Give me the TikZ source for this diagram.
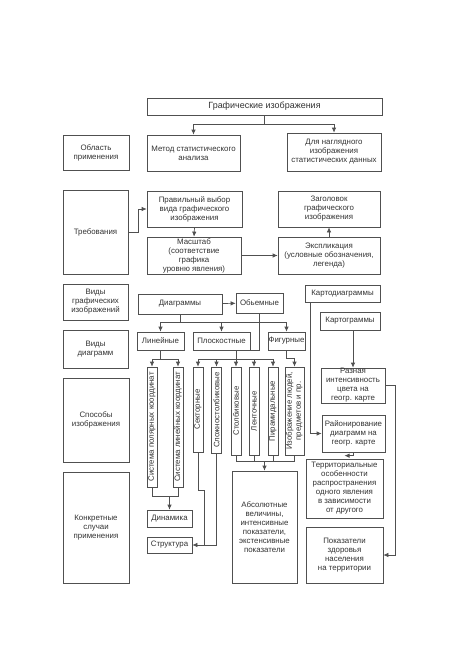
\documentclass[tikz,border=0pt]{standalone}
\usepackage{fontspec}
\setmainfont{Liberation Sans}
\usetikzlibrary{arrows.meta,calc}
\definecolor{lc}{HTML}{505050}
\definecolor{tc}{HTML}{333333}
\newcommand\bx[6]{\node[box, minimum width={(#4-#2)*1bp}, minimum height={(#5-#3)*1bp}] (#1) at ({(#2+#4)/2},{(#3+#5)/2}) {#6};}
\newcommand\vbx[6]{\node[box, minimum width={(#4-#2)*1bp}, minimum height={(#5-#3)*1bp}] (#1) at ({(#2+#4)/2},{(#3+#5)/2}) {\rotatebox{90}{#6}};}
\begin{document}
\begin{tikzpicture}[x=1bp,y=-1bp,
  box/.style={draw=lc, line width=0.7bp, inner sep=0pt, align=center, text=tc, font=\fontsize{7.9}{9}\selectfont},
  ln/.style={draw=lc, line width=0.7bp},
  arr/.style={draw=lc, line width=0.7bp, -{Latex[length=5bp,width=4.5bp]}}]
\useasboundingbox[fill=white] (0,0) rectangle (459,650);
% row 1
\bx{title}{147}{98}{382}{115}{\fontsize{9}{10}\selectfont Графические изображения}
\bx{obl}{63}{135}{129}{170}{Область\\применения}
\bx{metod}{147}{135}{240}{171}{Метод статистического\\анализа}
\bx{dlya}{287}{133}{381}{171}{Для наглядного\\изображения\\статистических данных}
% row 2
\bx{treb}{63}{190}{128}{274}{Требования}
\bx{prav}{147}{191}{242}{227}{Правильный выбор\\вида графического\\изображения}
\bx{mas}{147}{237}{241}{274}{Масштаб\\(соответствие\\графика\\уровню явления)}
\bx{zag}{278}{191}{380}{227}{Заголовок\\графического\\изображения}
\bx{exp}{278}{237}{380}{274}{Экспликация\\(условные обозначения,\\легенда)}
% row 3
\bx{vgi}{63}{284}{128}{320}{Виды\\графических\\изображений}
\bx{diag}{138}{294}{222}{314}{Диаграммы}
\bx{obem}{236}{293}{283}{313}{Обьемные}
\bx{kd}{305}{285}{380}{302}{Картодиаграммы}
\bx{kg}{320}{312}{380}{330}{Картограммы}
% row 4
\bx{vd}{63}{330}{128}{368}{Виды\\диаграмм}
\bx{lin}{137}{332}{184}{350}{Линейные}
\bx{plo}{193}{332}{250}{350}{Плоскостные}
\bx{fig}{268}{332}{305}{350}{Фигурные}
% row 5
\bx{sposob}{63}{378}{129}{462}{Способы\\изображения}
\vbx{pol}{147}{367}{157}{487}{Система полярных координат}
\vbx{linc}{173}{367}{183}{487}{Система линейных координат}
\vbx{sekt}{193}{367}{203}{452}{Секторные}
\vbx{slo}{211.5}{367}{221.5}{453}{Сложностолбиковые}
\vbx{sto}{231}{367}{241}{455}{Столбиковые}
\vbx{lent}{249}{367}{259}{455}{Ленточные}
\vbx{pir}{268}{367}{278}{455}{Пирамидальные}
\vbx{izob}{285}{367}{304}{455}{\begin{tabular}{@{}c@{}}Изображение людей,\\предметов и пр.\end{tabular}}
\bx{rz}{321}{368}{385}{403}{Разная\\интенсивность\\цвета на\\геогр. карте}
\bx{rai}{322}{415}{385}{452}{Районирование\\диаграмм на\\геогр. карте}
% row 6
\bx{konk}{63}{472}{129}{583}{Конкретные\\случаи\\применения}
\bx{din}{147}{510}{192}{527}{Динамика}
\bx{str}{147}{537}{192}{553}{Структура}
\bx{abs}{232}{471}{297}{583}{Абсолютные\\величины,\\интенсивные\\показатели,\\экстенсивные\\показатели}
\bx{terr}{306}{459}{383}{518}{Территориальные\\особенности\\распространения\\одного явления\\в зависимости\\от другого}
\bx{pok}{306}{527}{383}{583}{Показатели\\здоровья\\населения\\на территории}
% connectors
\draw[ln] (title.south) -- ++(0,9) coordinate (t1);
\draw[arr] (t1) -| (metod.north);
\draw[arr] (t1) -| (dlya.north);
\draw[arr] (treb.east) -- ++(10,0) |- (prav.west);
\draw[arr] (prav.south) -- (mas.north);
\draw[arr] (mas.east) -- (mas.east -| exp.west);
\draw[arr] (exp.north) -- (zag.south);
\draw[arr] (diag) -- (obem);
\draw[ln] (diag.south) -- ++(0,8) coordinate (d1);
\draw[arr] (d1) -| (lin.north);
\draw[arr] (d1) -| (plo.north);
\draw[arr] (d1) -| (fig.north);
\draw[ln] (obem.south) |- (plo.south east);
\draw[ln] (lin.south) -- ++(0,9) coordinate (l1);
\draw[arr] (l1) -| (pol.north);
\draw[arr] (l1) -| (linc.north);
\draw[ln] (plo.south -| sto.north) -- ++(0,9) coordinate (p1);
\draw[arr] (p1) -| (sekt.north);
\draw[arr] (p1) -| (slo.north);
\draw[arr] (p1) -- (sto.north);
\draw[arr] (p1) -| (lent.north);
\draw[arr] (p1) -| (pir.north);
\draw[arr] (fig.south) -- ++(0,8) -| (izob.north);
\coordinate (dj) at ($(din.north)+(0,-13)$);
\draw[ln] (pol.south) |- (dj) -| (linc.south);
\draw[arr] (dj) -- (din.north);
\coordinate (aj) at ($(abs.north)+(0,-9)$);
\draw[ln] (sto.south) |- (aj) -| (izob.south);
\draw[ln] (lent.south) -- (lent.south |- aj);
\draw[ln] (pir.south) -- (pir.south |- aj);
\draw[arr] (aj) -- (abs.north);
\draw[arr] (slo.south) |- (str.east);
\draw[ln] (sekt.south) -- ++(0,38) -- ++(6,0) -- ($(sekt.south |- str.east)+(6,0)$);
\draw[arr] ($(kd.south west)+(6,0)$) |- (rai.west);
\draw[arr] (rz.north |- kg.south) -- (rz.north);
\draw[arr] (rz.east) -- ++(10,0) |- (pok.east);
\draw[arr] (rai.south) |- ($(terr.north)+(0,-3)$);
\end{tikzpicture}
\end{document}
